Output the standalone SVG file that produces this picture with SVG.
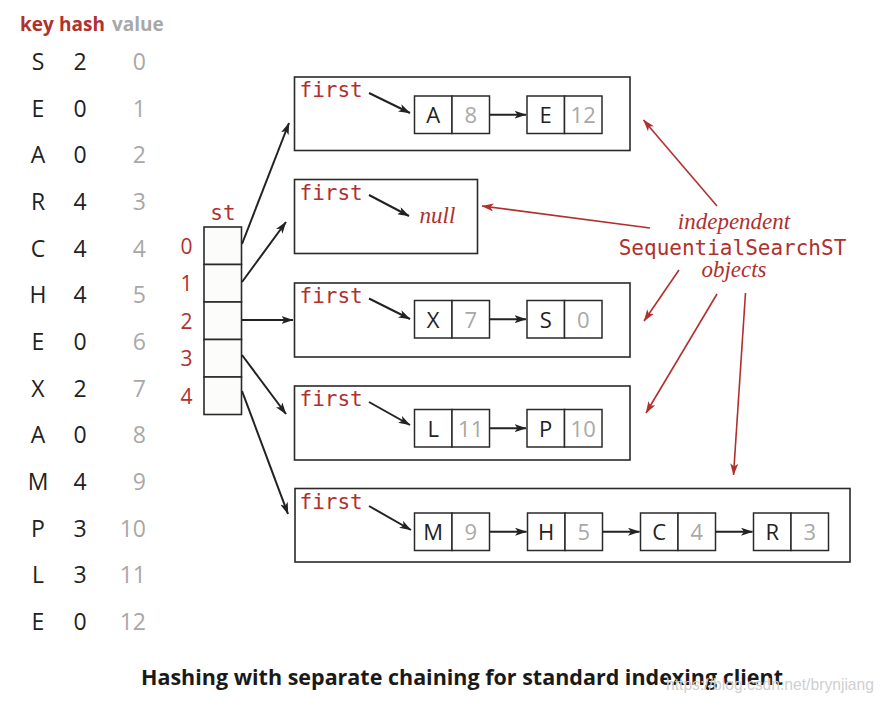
<svg xmlns="http://www.w3.org/2000/svg" width="882" height="706" viewBox="0 0 882 706">
<style>
.bg{fill:#fff}
.hdr{font-family:"Open Sans","Liberation Sans",sans-serif;font-weight:700;font-size:19px}
.red{fill:#b0302e}
.gray{fill:#a8a8a8}
.blk{fill:#222}
.tbl{font-family:"Open Sans","Liberation Sans",sans-serif;font-size:23px}
.mono{font-family:"DejaVu Sans Mono","Liberation Mono",monospace;font-size:21px;fill:#b0302e}
.idx{font-family:"Open Sans","Liberation Sans",sans-serif;font-size:21px;fill:#b0302e;text-anchor:middle}
.box{fill:#fff;stroke:#2a2a2a;stroke-width:1.6}
.cell{fill:#fff;stroke:#2a2a2a;stroke-width:1.5}
.stc{fill:#fcfcfa;stroke:#2a2a2a;stroke-width:1.6}
.nt{font-family:"Open Sans","Liberation Sans",sans-serif;font-size:22px;text-anchor:middle}
.ital{font-family:"Liberation Serif","DejaVu Serif",serif;font-style:italic;font-size:23px;fill:#b0302e;text-anchor:middle}
.arr{stroke:#222;stroke-width:2;fill:none;marker-end:url(#ah)}
.rarr{stroke:#b0302e;stroke-width:1.6;fill:none;marker-end:url(#rh)}
.cap{font-family:"Open Sans","Liberation Sans",sans-serif;font-weight:700;font-size:21px;fill:#1a1a1a;text-anchor:middle}
.wm{font-family:"Liberation Sans","DejaVu Sans",sans-serif;font-size:17px;fill:#d0d0d0}
</style>
<defs>
<marker id="ah" markerUnits="userSpaceOnUse" viewBox="0 0 12 8" refX="11.5" refY="4" markerWidth="12" markerHeight="8" orient="auto">
<path d="M0,0 L12,4 L0,8 L3,4 Z" fill="#222"/>
</marker>
<marker id="rh" markerUnits="userSpaceOnUse" viewBox="0 0 12 8" refX="11.5" refY="4" markerWidth="12" markerHeight="8" orient="auto">
<path d="M0,0 L12,4 L0,8 L3,4 Z" fill="#b0302e"/>
</marker>
</defs>
<rect class="bg" x="0" y="0" width="882" height="706"/>

<g id="table">
<text class="hdr red" x="20" y="31">key</text>
<text class="hdr red" x="59" y="31">hash</text>
<text class="hdr gray" x="112" y="31">value</text>
<g class="tbl">
<g text-anchor="middle" class="blk">
<text x="38" y="70">S</text><text x="38" y="116.7">E</text><text x="38" y="163.3">A</text><text x="38" y="210">R</text><text x="38" y="256.7">C</text><text x="38" y="303.3">H</text><text x="38" y="350">E</text><text x="38" y="396.7">X</text><text x="38" y="443.3">A</text><text x="38" y="490">M</text><text x="38" y="536.7">P</text><text x="38" y="583.3">L</text><text x="38" y="630">E</text>
<text x="80" y="70">2</text><text x="80" y="116.7">0</text><text x="80" y="163.3">0</text><text x="80" y="210">4</text><text x="80" y="256.7">4</text><text x="80" y="303.3">4</text><text x="80" y="350">0</text><text x="80" y="396.7">2</text><text x="80" y="443.3">0</text><text x="80" y="490">4</text><text x="80" y="536.7">3</text><text x="80" y="583.3">3</text><text x="80" y="630">0</text>
</g>
<g text-anchor="end" class="gray">
<text x="146" y="70">0</text><text x="146" y="116.7">1</text><text x="146" y="163.3">2</text><text x="146" y="210">3</text><text x="146" y="256.7">4</text><text x="146" y="303.3">5</text><text x="146" y="350">6</text><text x="146" y="396.7">7</text><text x="146" y="443.3">8</text><text x="146" y="490">9</text><text x="146" y="536.7">10</text><text x="146" y="583.3">11</text><text x="146" y="630">12</text>
</g>
</g>
</g>

<g id="st">
<text class="mono" x="223" y="219.5" text-anchor="middle">st</text>
<rect class="stc" x="204" y="227" width="37.5" height="37.5"/>
<rect class="stc" x="204" y="264.5" width="37.5" height="37.5"/>
<rect class="stc" x="204" y="302" width="37.5" height="37.5"/>
<rect class="stc" x="204" y="339.5" width="37.5" height="37.5"/>
<rect class="stc" x="204" y="377" width="37.5" height="37.5"/>
<text class="idx" x="186.5" y="253.5">0</text>
<text class="idx" x="186.5" y="291">1</text>
<text class="idx" x="186.5" y="328.5">2</text>
<text class="idx" x="186.5" y="366">3</text>
<text class="idx" x="186.5" y="403.5">4</text>
</g>

<g id="chain0">
<rect class="box" x="294.5" y="77" width="335.5" height="73.5"/>
<text class="mono" x="299.5" y="97">first</text>
<rect class="cell" x="414.5" y="96" width="37.5" height="37.5"/><rect class="cell" x="452" y="96" width="37.5" height="37.5"/>
<text class="nt blk" x="433.2" y="123">A</text><text class="nt gray" x="470.7" y="123">8</text>
<rect class="cell" x="527" y="96" width="37.5" height="37.5"/><rect class="cell" x="564.5" y="96" width="37.5" height="37.5"/>
<text class="nt blk" x="545.7" y="123">E</text><text class="nt gray" x="583.2" y="123">12</text>
</g>

<g id="chain1">
<rect class="box" x="294.5" y="179.5" width="183" height="74"/>
<text class="mono" x="299.5" y="200">first</text>
<text class="ital" x="437.5" y="223">null</text>
</g>

<g id="chain2">
<rect class="box" x="294.5" y="283" width="335.5" height="74"/>
<text class="mono" x="299.5" y="303">first</text>
<rect class="cell" x="414.5" y="300.5" width="37.5" height="37.5"/><rect class="cell" x="452" y="300.5" width="37.5" height="37.5"/>
<text class="nt blk" x="433.2" y="327.5">X</text><text class="nt gray" x="470.7" y="327.5">7</text>
<rect class="cell" x="527" y="300.5" width="37.5" height="37.5"/><rect class="cell" x="564.5" y="300.5" width="37.5" height="37.5"/>
<text class="nt blk" x="545.7" y="327.5">S</text><text class="nt gray" x="583.2" y="327.5">0</text>
</g>

<g id="chain3">
<rect class="box" x="294.5" y="386" width="335.5" height="74"/>
<text class="mono" x="299.5" y="406">first</text>
<rect class="cell" x="414.5" y="409.5" width="37.5" height="37.5"/><rect class="cell" x="452" y="409.5" width="37.5" height="37.5"/>
<text class="nt blk" x="433.2" y="436.5">L</text><text class="nt gray" x="470.7" y="436.5">11</text>
<rect class="cell" x="527" y="409.5" width="37.5" height="37.5"/><rect class="cell" x="564.5" y="409.5" width="37.5" height="37.5"/>
<text class="nt blk" x="545.7" y="436.5">P</text><text class="nt gray" x="583.2" y="436.5">10</text>
</g>

<g id="chain4">
<rect class="box" x="295" y="488.5" width="555" height="73.5"/>
<text class="mono" x="299.5" y="509">first</text>
<rect class="cell" x="414.5" y="513" width="37.5" height="37.5"/><rect class="cell" x="452" y="513" width="37.5" height="37.5"/>
<text class="nt blk" x="433.2" y="540">M</text><text class="nt gray" x="470.7" y="540">9</text>
<rect class="cell" x="527.5" y="513" width="37.5" height="37.5"/><rect class="cell" x="565" y="513" width="37.5" height="37.5"/>
<text class="nt blk" x="546.2" y="540">H</text><text class="nt gray" x="583.7" y="540">5</text>
<rect class="cell" x="640.5" y="513" width="37.5" height="37.5"/><rect class="cell" x="678" y="513" width="37.5" height="37.5"/>
<text class="nt blk" x="659.2" y="540">C</text><text class="nt gray" x="696.7" y="540">4</text>
<rect class="cell" x="753.5" y="513" width="37.5" height="37.5"/><rect class="cell" x="791" y="513" width="37.5" height="37.5"/>
<text class="nt blk" x="772.2" y="540">R</text><text class="nt gray" x="809.7" y="540">3</text>
</g>

<g id="annotation">
<text class="ital" x="734" y="229">independent</text>
<text class="mono" x="732.5" y="255" text-anchor="middle">SequentialSearchST</text>
<text class="ital" x="734" y="277">objects</text>
</g>

<g id="connectors">
<line class="arr" x1="242" y1="244" x2="289" y2="123"/>
<line class="arr" x1="242" y1="282" x2="286" y2="222"/>
<line class="arr" x1="242" y1="320" x2="293" y2="320"/>
<line class="arr" x1="242" y1="355" x2="286" y2="414"/>
<line class="arr" x1="242" y1="391" x2="288" y2="514"/>
<line class="arr" x1="369" y1="93" x2="410" y2="113"/>
<line class="arr" x1="369" y1="195" x2="409" y2="216"/>
<line class="arr" x1="369" y1="298.5" x2="410" y2="319"/>
<line class="arr" x1="369" y1="402" x2="410" y2="425"/>
<line class="arr" x1="369" y1="506" x2="411" y2="530"/>
<line class="arr" x1="489.5" y1="114.7" x2="526" y2="114.7"/>
<line class="arr" x1="489.5" y1="319.2" x2="526" y2="319.2"/>
<line class="arr" x1="489.5" y1="428.2" x2="526" y2="428.2"/>
<line class="arr" x1="489.5" y1="531.7" x2="526.5" y2="531.7"/>
<line class="arr" x1="602.5" y1="531.7" x2="639.5" y2="531.7"/>
<line class="arr" x1="715.5" y1="531.7" x2="752.5" y2="531.7"/>
<line class="rarr" x1="650" y1="228" x2="482" y2="206"/>
<line class="rarr" x1="717" y1="206" x2="643.5" y2="120"/>
<line class="rarr" x1="679" y1="270" x2="644" y2="321"/>
<line class="rarr" x1="717" y1="294" x2="646" y2="413"/>
<line class="rarr" x1="745.5" y1="293" x2="733.5" y2="475"/>
</g>

<text class="cap" x="462" y="685" textLength="642" lengthAdjust="spacingAndGlyphs">Hashing with separate chaining for standard indexing client</text>
<text class="wm" x="666" y="690" textLength="208" lengthAdjust="spacingAndGlyphs">https://blog.csdn.net/brynjiang</text>
</svg>
